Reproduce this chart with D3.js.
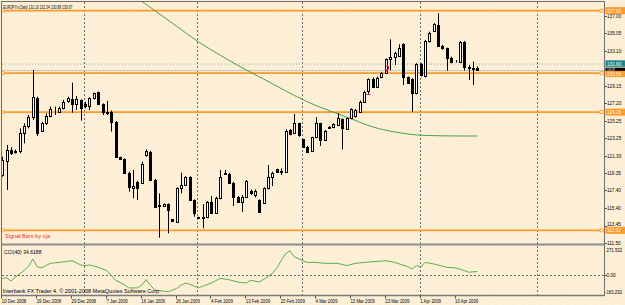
<!DOCTYPE html>
<html>
<head>
<meta charset="utf-8">
<script src="https://cdn.jsdelivr.net/npm/d3@7"></script>
<style>
  body { margin: 0; background: #fcefd6; }
  svg text { font-family: "Liberation Sans", Arial, sans-serif; }
</style>
</head>
<body>
<div id="chart"></div>
<script>
// EURJPYm daily bars (bar index 0 = 10 Dec 2008)
const opens = [119.14,120.75,121.95,121.7,121.87,123.82,124.64,125.62,127.75,124.12,
  124.94,125.77,126.52,126.26,126.63,127.42,127.68,127.12,127.57,127.15,
  126.89,127.75,128.43,127.08,126.26,126.26,125.13,121.12,120.94,119.4,
  117.72,118.35,118.28,121.35,121.72,118.58,115.7,115.65,115.87,114.15,
  113.89,117.63,117.97,118.87,116.32,114.38,114.27,114.38,116.14,114.9,
  116.51,119.4,119.25,118.27,116.7,116.14,116.7,117.37,116.9,116.32,
  115.95,117.63,118.87,119.77,119.58,119.51,124.19,123.82,124.94,123.14,
  122.32,121.87,123.37,124.94,123.07,124.57,124.49,124.76,125.43,124.31,
  125.5,125.75,126.25,127.38,128.6,129.9,128.98,130.11,130.63,132.13,
  132.36,132.54,133.82,130.11,129.88,128.31,131.6,130.26,134.23,135.35,
  135.99,133.67,133.37,132.25,131.9,131.87,134.12,131.31,131.12,131.16];
const highs = [121.2,122.51,122.25,122.0,124.38,124.94,125.88,130.94,127.94,125.13,
  126.07,126.82,126.82,126.82,127.57,127.94,129.51,128.02,127.64,127.38,
  127.87,128.39,128.5,127.19,127.49,126.37,125.21,121.2,121.01,119.51,
  119.7,118.5,120.64,122.02,121.87,118.7,117.07,115.95,115.95,114.2,
  117.75,119.4,119.0,119.0,116.4,114.45,115.87,116.2,116.78,116.7,
  119.7,119.7,119.4,118.38,116.78,116.9,118.57,117.52,117.52,116.4,
  117.75,120.26,119.51,119.85,119.88,124.26,124.3,125.99,125.0,123.2,
  122.4,123.44,125.62,125.0,124.2,124.64,124.94,126.07,125.5,125.6,
  126.63,126.55,127.5,128.6,130.0,130.1,130.2,130.72,132.25,134.38,
  132.99,133.82,133.93,130.2,130.0,131.7,131.7,134.3,135.24,136.2,
  137.3,133.75,133.44,132.43,132.06,134.2,134.2,131.5,131.87,131.34];
const lows = [118.95,117.45,121.39,121.55,121.57,122.7,124.38,125.32,123.52,124.01,
  124.76,125.62,125.88,126.18,126.52,127.27,126.14,126.44,125.24,126.63,
  126.44,127.64,127.0,125.88,125.88,124.01,121.12,120.82,119.33,117.27,
  116.52,116.33,118.2,121.2,118.5,115.57,112.1,115.55,112.58,113.95,
  113.78,117.07,117.9,116.25,114.45,114.2,113.14,114.3,114.85,114.8,
  116.4,119.14,118.2,115.65,116.02,115.0,116.62,116.9,116.62,114.9,
  115.88,117.52,117.9,119.4,119.13,119.4,123.6,123.74,123.44,122.2,
  121.6,121.76,123.26,122.4,123.0,124.34,124.4,124.64,122.0,124.2,
  125.4,125.6,126.2,127.3,128.2,128.9,128.9,130.0,130.56,130.9,
  131.5,132.43,129.25,129.4,126.25,128.2,130.2,130.1,134.0,135.2,
  133.55,133.2,130.86,131.68,131.76,131.8,130.86,129.81,129.25,130.89];
const closes = [120.82,121.95,121.65,121.85,123.9,124.64,125.62,127.87,123.9,125.02,
  125.77,126.52,126.6,126.7,127.34,127.75,127.12,127.64,126.63,126.89,
  127.79,128.31,127.08,126.18,126.07,125.13,121.2,120.9,119.4,117.83,
  117.9,117.68,120.37,121.87,118.58,115.6,115.75,115.84,115.2,114.0,
  117.63,118.01,118.87,116.32,114.9,114.27,114.45,116.14,114.9,116.51,
  118.87,119.25,118.27,116.7,116.14,116.7,118.46,117.07,117.37,115.0,
  117.63,118.87,119.32,119.51,119.5,124.12,123.74,124.94,123.63,122.32,
  121.76,123.37,124.94,123.07,124.12,124.46,124.83,125.5,124.38,125.5,
  126.52,126.44,127.38,128.5,129.9,128.98,130.07,130.63,132.13,132.43,
  132.8,133.44,130.11,129.51,128.31,131.6,130.37,134.23,135.13,136.1,
  133.63,133.37,132.25,131.87,131.95,134.12,131.31,131.12,131.1,130.97];

// green moving average, sampled along its curve
const maIndex = [30,35,40,45,50,55,60,65,70,75,80,85,90,95,100,105,109];
const maValue = [139.36,137.6,135.85,134.09,132.6,131.19,129.91,128.59,127.36,126.37,
  125.47,124.54,123.98,123.64,123.55,123.52,123.52];

// CCI(40) sub-window
const cciIndex = [0,1,2,3,5,6,7,8,9,11,13,15,16,18,19,20,22,24,26,28,29,31,32,33,34,35,
  37,38,40,41,42,43,45,46,48,50,52,54,56,57,59,61,62,63,64,65,66,67,69,70,72,74,77,79,
  81,83,86,88,90,93,94,95,96,97,99,102,104,106,107,109];
const cciValue = [-31.7,-22.6,-53.6,-17.1,43.9,80.3,150.4,80.3,68.5,110.4,119.5,128.6,135,
  95.8,89.4,95.8,73.9,43.9,-47.2,-86.3,-117.3,-117.3,-92.7,-40.8,-92.7,-138.2,-147.3,
  -153.7,-122.8,-92.7,-71.8,-83.6,-117.3,-101.8,-71.8,-29,-40.8,-62.7,-71.8,-47.2,-62.7,
  -10.8,19.3,68.5,135,198.7,226,171.4,135,119.5,119.5,110.4,110.4,89.4,110.4,119.5,128.6,
  135,119.5,80.3,59.4,89.4,73.9,119.5,104.9,73.9,68.5,43.9,28.4,34.6];

// horizontal objects
const levelPrices = [137.60, 130.58, 126.20, 112.92];
const levelLabels = ["137.60", "130.58", "126.20", "112.92"];
const alertPrice = 131.60;
const bidPrice = 130.97;

// axes
const priceTicks = [137.00,135.05,133.10,129.15,127.20,125.25,123.25,121.30,119.35,117.40,115.40,113.45,111.50];
const dateIndex = [0,8,16,24,32,40,48,56,64,72,80,88,96,104];
const dateLabels = ["10 Dec 2008","19 Dec 2008","29 Dec 2008","7 Jan 2009","16 Jan 2009",
  "26 Jan 2009","4 Feb 2009","13 Feb 2009","23 Feb 2009","4 Mar 2009","13 Mar 2009",
  "23 Mar 2009","1 Apr 2009","10 Apr 2009"];
const monthIndex = [19,45,69,96,123];
const signalIndex = [84, 88];
const signalPrice = [128.2, 130.9];

const W = 625, H = 305;
const axisX = 604.5, mainBottom = 243.5, cciTop = 246, cciBottom = 295;
const cream = "#fcefd6", orange = "#ff9a2a";

const x = d3.scaleLinear().domain([0, 109]).range([2.3, 477.3]);
const y = d3.scaleLinear().domain([111.5, 137]).range([243, 16]);
const yc = d3.scaleLinear().domain([-183.292, 271.532]).range([cciBottom, cciTop]);

const svg = d3.select("#chart").append("svg")
  .attr("width", W).attr("height", H);

const defs = svg.append("defs");
defs.append("clipPath").attr("id", "clipMain").append("rect")
  .attr("x", 2).attr("y", 2).attr("width", axisX - 2).attr("height", mainBottom - 2);
defs.append("clipPath").attr("id", "clipCci").append("rect")
  .attr("x", 2).attr("y", cciTop).attr("width", axisX - 2).attr("height", cciBottom - cciTop);
// faint dither dots seen in the screenshot background
const pat = defs.append("pattern").attr("id", "dots")
  .attr("width", 9).attr("height", 6).attr("patternUnits", "userSpaceOnUse");
pat.append("rect").attr("x", 1).attr("y", 1).attr("width", 1).attr("height", 1).attr("fill", "#fff");
pat.append("rect").attr("x", 5).attr("y", 4).attr("width", 1).attr("height", 1).attr("fill", "#fff");

svg.append("rect").attr("width", W).attr("height", H).attr("fill", cream);
svg.append("rect").attr("width", W).attr("height", H).attr("fill", "url(#dots)").attr("opacity", 0.45);

function label(g, x0, y0, str, o) {
  o = o || {};
  const sx = o.sx || 1;
  const t = g.append("text")
    .attr("transform", "translate(" + x0 + "," + y0 + ") scale(" + sx + ",1)")
    .attr("font-size", o.size || 6)
    .attr("fill", o.fill || "#000")
    .text(str);
  if (o.len) t.attr("textLength", o.len / sx).attr("lengthAdjust", "spacingAndGlyphs");
  return t;
}

// month grid
svg.append("g").selectAll("line").data(monthIndex).join("line")
  .attr("x1", d => Math.round(x(d)) - 0.5).attr("x2", d => Math.round(x(d)) - 0.5)
  .attr("y1", 2).attr("y2", cciBottom)
  .attr("stroke", "#6b6b6b").attr("stroke-width", 1).attr("stroke-dasharray", "2,2");

// CCI zero level
svg.append("line").attr("x1", 2).attr("x2", axisX)
  .attr("y1", Math.round(yc(0)) + 0.5).attr("y2", Math.round(yc(0)) + 0.5)
  .attr("stroke", "#6b6b6b").attr("stroke-dasharray", "2,2");

const main = svg.append("g").attr("clip-path", "url(#clipMain)");

// alert and bid lines
main.append("line").attr("x1", 2).attr("x2", axisX)
  .attr("y1", y(alertPrice)).attr("y2", y(alertPrice))
  .attr("stroke", "#6fb3a8").attr("stroke-dasharray", "1,2");
main.append("line").attr("x1", 2).attr("x2", axisX)
  .attr("y1", y(bidPrice) + 1).attr("y2", y(bidPrice) + 1)
  .attr("stroke", "#c4c0b8").attr("stroke-width", 1);

// orange levels
main.selectAll("line.level").data(levelPrices).join("line")
  .attr("class", "level")
  .attr("x1", 2).attr("x2", axisX - 2)
  .attr("y1", d => y(d)).attr("y2", d => y(d))
  .attr("stroke", orange).attr("stroke-width", 1.6);
[2.5, axisX - 3].forEach(function(px) {
  main.selectAll(null).data(levelPrices).join("rect")
    .attr("x", px - 1.5).attr("y", d => y(d) - 1.5)
    .attr("width", 3).attr("height", 3)
    .attr("fill", cream).attr("stroke", orange).attr("stroke-width", 0.8);
});

// moving average
main.append("path")
  .datum(d3.zip(maIndex, maValue))
  .attr("d", d3.line().x(d => x(d[0])).y(d => y(d[1])).curve(d3.curveCatmullRom))
  .attr("fill", "none").attr("stroke", "#4f9e45").attr("stroke-width", 1);

// candles
const bars = d3.range(opens.length);
const cx = i => Math.round(x(i)) + 0.5;
main.append("g").selectAll("line").data(bars).join("line")
  .attr("x1", cx).attr("x2", cx)
  .attr("y1", i => y(highs[i])).attr("y2", i => y(lows[i]))
  .attr("stroke", "#000").attr("stroke-width", 1);
main.append("g").attr("shape-rendering", "crispEdges")
  .selectAll("rect").data(bars).join("rect")
  .attr("x", i => cx(i) - 1)
  .attr("y", i => Math.round(y(Math.max(opens[i], closes[i]))) + 0.5)
  .attr("width", 2)
  .attr("height", i => Math.max(0, Math.round(y(Math.min(opens[i], closes[i]))) - Math.round(y(Math.max(opens[i], closes[i])))))
  .attr("fill", i => closes[i] >= opens[i] ? "#fff" : "#000")
  .attr("stroke", "#000").attr("stroke-width", 1);

// signal marks
const sig = main.append("g").attr("stroke", "#e8222a").attr("fill", "none");
sig.append("path")
  .attr("d", "M" + (cx(signalIndex[0]) - 2) + "," + y(signalPrice[0]) + "h4");
sig.append("path")
  .attr("d", "M" + (cx(signalIndex[1]) - 1) + "," + (y(signalPrice[1]) - 4) + "h3v3");
sig.append("path").attr("fill", "#e8222a").attr("stroke", "none")
  .attr("d", "M" + (cx(signalIndex[1]) - 2) + "," + (y(signalPrice[1]) - 1) + "h4l-2,3z");

// CCI line
svg.append("g").attr("clip-path", "url(#clipCci)").append("path")
  .datum(d3.zip(cciIndex, cciValue))
  .attr("d", d3.line().x(d => x(d[0])).y(d => yc(d[1])))
  .attr("fill", "none").attr("stroke", "#5aae4a").attr("stroke-width", 1);

// window frames
svg.append("rect").attr("x", 1.5).attr("y", 1.5).attr("width", axisX - 1.5).attr("height", cciBottom - 1)
  .attr("fill", "none").attr("stroke", "#6e6e6e").attr("stroke-width", 1);
svg.append("line").attr("x1", 1.5).attr("x2", axisX)
  .attr("y1", 244.5).attr("y2", 244.5).attr("stroke", "#8c8c8c").attr("stroke-width", 2);
svg.append("line").attr("x1", 1.5).attr("x2", axisX)
  .attr("y1", cciBottom + 0.5).attr("y2", cciBottom + 0.5).attr("stroke", "#7a7a7a").attr("stroke-width", 1.5);

// texts in windows
label(svg, 3.3, 8.5, "EURJPYm,Daily  131.16 131.34 130.89 130.97", {len: 69});
label(svg, 5, 237.5, "Signal Bars by oja", {len: 45, fill: "#ff2a2a"});
label(svg, 4, 253.5, "CCI(40) 34.6188", {len: 37.5});
label(svg, 2.7, 292.8, "Interbank FX Trader 4, \u00a9 2001-2008 MetaQuotes Software Corp.", {len: 158});

// price axis
const pAxis = svg.append("g");
pAxis.selectAll("line").data(priceTicks).join("line")
  .attr("x1", axisX).attr("x2", axisX + 2.5)
  .attr("y1", d => Math.round(y(d)) + 0.5).attr("y2", d => Math.round(y(d)) + 0.5)
  .attr("stroke", "#555");
priceTicks.forEach(function(p) {
  // the lowest inner label sits just above the 112.92 box, as in the screenshot
  const dy = p === 113.45 ? -1.5 : 0;
  label(pAxis, axisX + 2.5, y(p) + 2 + dy, d3.format(".2f")(p), {sx: 0.78, size: 6});
});

// price boxes
function priceBox(yc0, h, txt, fill, color, size) {
  pAxis.append("rect").attr("x", axisX + 1).attr("y", yc0 - h / 2)
    .attr("width", W - axisX - 1).attr("height", h).attr("fill", fill);
  label(pAxis, axisX + 2.5, yc0 + size * 0.34, txt, {sx: 0.78, size: size, fill: color});
}
priceBox(y(alertPrice) - 0.5, 6.5, "131.60", "#1f8787", "#ffffff", 6);
priceBox(y(bidPrice) - 0.2, 3.6, d3.format(".2f")(bidPrice), "#000", "#ffffff", 3.4);
levelPrices.forEach(function(p, k) {
  const shift = k === 1 ? 0.8 : 0;
  priceBox(y(p) + shift, k === 1 ? 6.2 : 7, levelLabels[k], orange, "#fff6e6", 6);
});

// CCI axis
label(svg, axisX + 2, 251.5, "271.532", {sx: 0.72, size: 6});
label(svg, axisX + 2, yc(0) + 2, "0.00", {sx: 0.78, size: 6});
label(svg, axisX + 0.5, 293.5, "-183.292", {sx: 0.72, size: 6});
svg.append("line").attr("x1", axisX).attr("x2", axisX + 2.5)
  .attr("y1", Math.round(yc(0)) + 0.5).attr("y2", Math.round(yc(0)) + 0.5).attr("stroke", "#555");

// date axis
const dAxis = svg.append("g");
dAxis.selectAll("line").data(dateIndex).join("line")
  .attr("x1", d => Math.round(x(d)) - 0.5).attr("x2", d => Math.round(x(d)) - 0.5)
  .attr("y1", cciBottom + 1).attr("y2", cciBottom + 3.5)
  .attr("stroke", "#555");
dateIndex.forEach(function(d, k) {
  label(dAxis, x(d) - 0.5, 302.8, dateLabels[k], {sx: 0.72, size: 6});
});
</script>
</body>
</html>
